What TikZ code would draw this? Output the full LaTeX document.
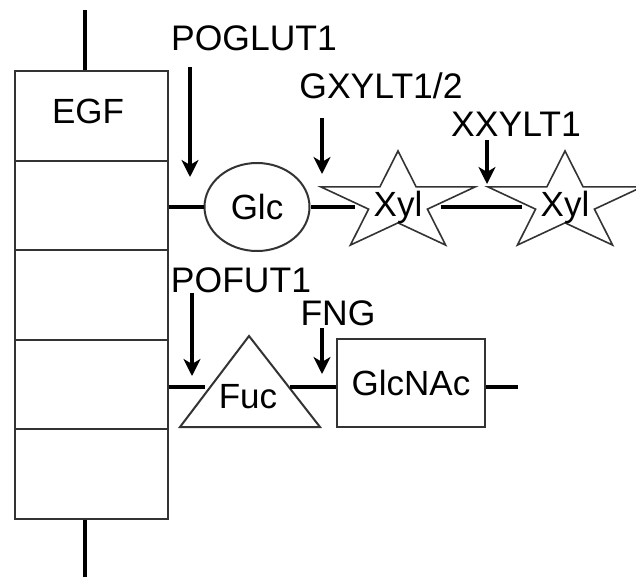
\documentclass[tikz,border=0pt]{standalone}
\usepackage{fontspec}
\setmainfont{Liberation Sans}
\usetikzlibrary{arrows.meta,shapes.geometric}
\begin{document}
\begin{tikzpicture}[x=1pt,y=-1pt,
  outline/.style={draw=black!80,line width=2pt},
  seg/.style={outline,minimum width=153pt,minimum height=89.5pt,inner sep=0pt,anchor=north west},
  conn/.style={line width=3.5pt,black},
  stem/.style={line width=4pt,black},
  enz/.style={line width=3.5pt,-{Stealth[length=17pt,width=17pt,inset=5pt]}},
  lbl/.style={inner sep=0pt,font=\fontsize{35.5}{40}\selectfont},
  sug/.style={inner sep=0pt,font=\fontsize{35}{40}\selectfont}]
\useasboundingbox (0,0) rectangle (636,579);
% EGF column
\node[seg] (seg1) at (14,70) {};
\node[seg] (seg2) at (14,159.5) {};
\node[seg] (seg3) at (14,249) {};
\node[seg] (seg4) at (14,338.5) {};
\node[seg] (seg5) at (14,428) {};
\node[sug] (egf) at (88,111) {EGF};
\coordinate (topend) at (85,10);
\coordinate (botend) at (85,577);
\draw[stem] (topend) -- (topend |- seg1.north);
\draw[stem] (botend |- seg5.south) -- (botend);
% O-glucose branch
\node[ellipse,outline,minimum width=105pt,minimum height=88pt,inner sep=0pt,
      font=\fontsize{35}{40}\selectfont] (glc) at (257,207) {Glc};
\newcommand\xylstar[2]{%
  \draw[outline,line width=1.6pt,line join=miter] ({#1},{#2-52}) \foreach \k in {1,...,9}{
    -- ({#1+(mod(\k,2)==1?0.382:1)*81*cos(90+36*\k)},{#2-(mod(\k,2)==1?0.382:1)*52*sin(90+36*\k)}) } -- cycle;}
\xylstar{398}{203}
\xylstar{565}{203}
\node[sug,minimum width=85pt] (xyl1) at (398,207) {Xyl};
\node[sug,minimum width=86pt] (xyl2) at (565,207) {Xyl};
\draw[conn] (seg2.east |- glc.west) -- (glc.west);
\draw[conn] (glc.east) -- (xyl1.west);
\draw[conn] (xyl1.east) -- (xyl2.west);
% O-fucose branch
\draw[outline,line join=miter] (249,336) -- (180,427) -- (320,427) -- cycle;
\node[sug] (fuc) at (248,397) {Fuc};
\coordinate (fucL) at (205,387);
\coordinate (fucR) at (290,387);
\coordinate (tailR) at (518,387);
\node[outline,minimum width=148pt,minimum height=88pt,inner sep=0pt,
      font=\fontsize{35}{40}\selectfont] (glcnac) at (411,383) {GlcNAc};
\draw[conn] (seg4.east |- fucL) -- (fucL);
\draw[conn] (fucR) -- (fucR -| glcnac.west);
\draw[conn] (glcnac.east |- tailR) -- (tailR);
% enzymes
\node[lbl] (poglut) at (254,38) {POGLUT1};
\node[lbl] (gxylt) at (381,86) {GXYLT1/2};
\node[lbl] (xxylt) at (516,124) {XXYLT1};
\node[lbl] (pofut) at (241,280) {POFUT1};
\node[lbl] (fng) at (338,313) {FNG};
\coordinate (a1s) at (190,67);  \coordinate (a1e) at (190,177);
\coordinate (a2s) at (322,118); \coordinate (a2e) at (322,174);
\coordinate (a3s) at (487,140); \coordinate (a3e) at (487,184);
\coordinate (a4s) at (192,293); \coordinate (a4e) at (192,376);
\coordinate (a5s) at (322,328); \coordinate (a5e) at (322,374);
\draw[enz] (a1s) -- (a1e);
\draw[enz] (a2s) -- (a2e);
\draw[enz] (a3s) -- (a3e);
\draw[enz] (a4s) -- (a4e);
\draw[enz] (a5s) -- (a5e);
\end{tikzpicture}
\end{document}
